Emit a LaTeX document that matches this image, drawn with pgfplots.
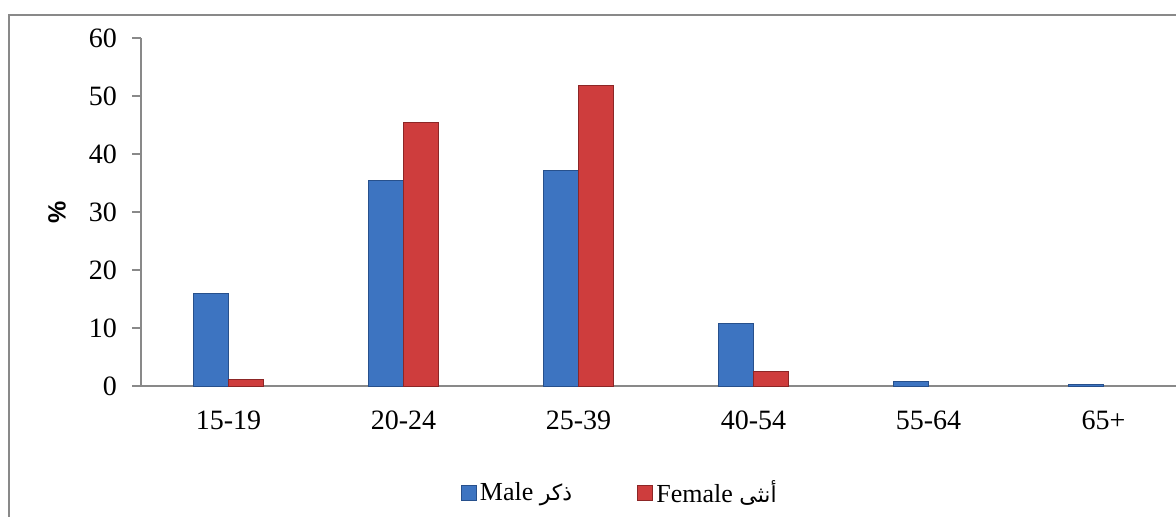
\documentclass[border=0pt]{standalone}
\usepackage{pgfplots}
\pgfplotsset{compat=1.18}
\usepackage{fontspec}
\setmainfont{Liberation Serif}
\setsansfont{Liberation Sans}
\newfontfamily\arabicfont[Script=Arabic]{DejaVu Sans}
\TeXXeTstate=1
\definecolor{axgray}{HTML}{898989}
\definecolor{mblue}{HTML}{3D74C1}
\definecolor{mblued}{HTML}{27508C}
\definecolor{fred}{HTML}{CE3D3D}
\definecolor{fredd}{HTML}{8C2626}
\begin{document}
\begin{tikzpicture}
\path[use as bounding box] (0,0) rectangle (588pt,-258pt);
\clip (0,0) rectangle (588pt,-258pt);
\fill[white] (0,0) rectangle (588pt,-258pt);
\draw[axgray, line width=0.7pt] (4.5pt,-7.5pt) rectangle (620pt,-300pt);
\begin{axis}[
  at={(70.5pt,-193pt)}, anchor=south west,
  scale only axis, width=517.5pt, height=174pt,
  xmin=-0.5, xmax=5.414, ymin=0, ymax=60,
  ybar=0pt, bar width=17.5pt,
  axis x line*=bottom, axis y line*=left,
  axis line style={axgray, line width=0.8pt},
  xtick={0,...,5}, xticklabels={15-19,20-24,25-39,40-54,55-64,65+},
  xtick style={draw=none},
  xticklabel style={yshift=-4.5pt},
  ytick={0,10,...,60}, ytick style={axgray, line width=0.8pt},
  tick align=outside, major tick length=4.5pt,
  yticklabel style={xshift=-4pt},
  tick label style={font=\fontsize{14}{16}\selectfont},
  /pgf/number format/assume math mode=true,
  ylabel={\%},
  ylabel style={font=\sffamily\bfseries\fontsize{12.5}{14}\selectfont, at={(axis description cs:0,0.5)}, anchor=center, xshift=0pt, yshift=42pt},
  legend columns=2,
  legend style={draw=none, fill=none, at={(axis description cs:0.463,-0.307)}, anchor=center,
    font=\fontsize{13}{15}\selectfont,
    /tikz/every even column/.append style={column sep=31pt},
    nodes={inner sep=1.5pt}},
  legend image code/.code={\draw[#1, line width=0.5pt] (0pt,-3.8pt) rectangle (7.6pt,3.8pt);},
]
\addplot[draw=mblued, line width=0.5pt, fill=mblue]
  coordinates {(0,15.9) (1,35.5) (2,37.1) (3,10.8) (4,0.85) (5,0.3)};
\addplot[draw=fredd, line width=0.5pt, fill=fred]
  coordinates {(0,1.2) (1,45.4) (2,51.8) (3,2.5)};
\legend{Male {\arabicfont\fontsize{11}{13}\selectfont\beginR ذكر\endR},Female {\arabicfont\fontsize{11}{13}\selectfont\beginR أنثى\endR}}
\end{axis}
\end{tikzpicture}
\end{document}
